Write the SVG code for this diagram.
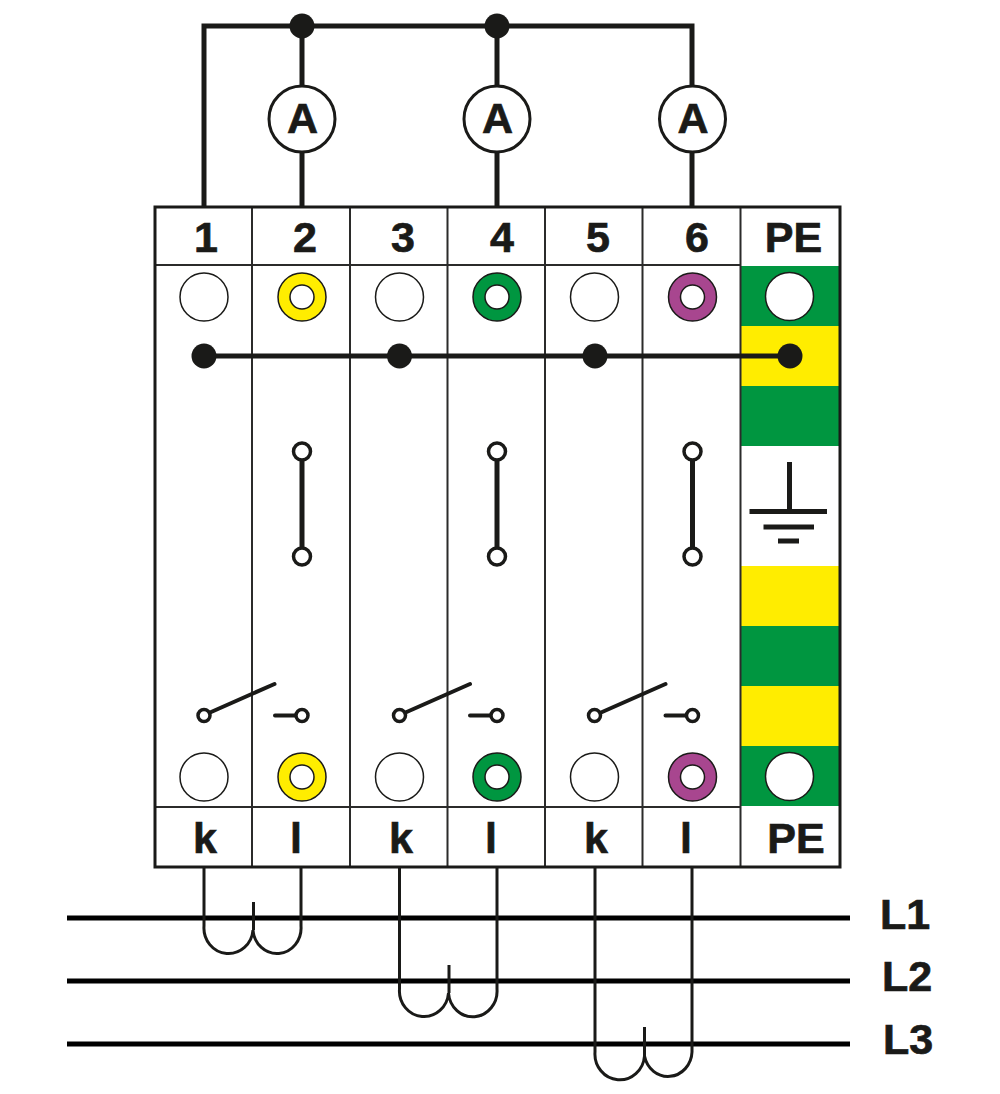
<svg xmlns="http://www.w3.org/2000/svg" width="1000" height="1094" viewBox="0 0 1000 1094">
<style>
.t{font-family:"Liberation Sans",Arial,sans-serif;font-weight:700;font-size:43px;fill:#1a1a18;stroke:#1a1a18;stroke-width:.7;text-anchor:middle}
.g{fill:#009640}.y{fill:#ffed00}
.w{fill:none;stroke:#1a1a18;stroke-width:5}
.w4{fill:none;stroke:#1a1a18;stroke-width:4;stroke-linecap:round}
.grid{fill:none;stroke:#2b2b2a;stroke-width:2}
.hole{fill:#fff;stroke:#1a1a18;stroke-width:1.5}
.ring{stroke:#1a1a18;stroke-width:1.5}
.pin{fill:#fff;stroke:#1a1a18;stroke-width:3.500}
.dot{fill:#1a1a18}
.m{fill:#fff;stroke:#1a1a18;stroke-width:3}
.sw{fill:#fff;stroke:#1a1a18;stroke-width:3.500}
.ln{fill:none;stroke:#000;stroke-width:5}
.loop{fill:none;stroke:#1a1a18;stroke-width:3}
</style>
<rect width="1000" height="1094" fill="#fff"/>
<g id="pe-strip">
<rect class="g" x="741" y="266" width="98" height="60"/>
<rect class="y" x="741" y="326" width="98" height="60"/>
<rect class="g" x="741" y="386" width="98" height="60"/>
<rect class="y" x="741" y="566" width="99" height="60"/>
<rect class="g" x="741" y="626" width="99" height="60"/>
<rect class="y" x="741" y="686" width="99" height="60"/>
<rect class="g" x="741" y="746" width="99" height="60"/>
</g>
<g id="housing">
<path class="grid" d="M252 207V867M350 207V867M447.500 207V867M545 207V867M642.500 207V867M740.500 207V867M155 265H741M155 807H741"/>
<rect x="155" y="207" width="685" height="660" fill="none" stroke="#1a1a18" stroke-width="3"/>
</g>
<g id="connectors">
<path class="w" d="M204 207V26H692V207M302 26V86M302 152V207M497 26V86M497 152V207M692 152V207"/>
<path class="w" d="M204 356H790"/>
<path class="ln" d="M67 918H850M67 981H850M67 1044H850"/>
<path class="loop" d="M204 867V926A24.500 25.500 0 0 0 253 930A24 25.500 0 0 0 301 926V867M253.500 930V902"/>
<path class="loop" d="M399.500 867V989A24.500 25.500 0 0 0 448.500 993A24 25.500 0 0 0 497 989V867M449 993V965"/>
<path class="loop" d="M595 867V1052A24.500 25.500 0 0 0 644.500 1056A24 25.500 0 0 0 692 1052V867M644.500 1056V1027"/>
</g>
<g id="junctions">
<circle class="dot" cx="302" cy="26" r="12.500"/><circle class="dot" cx="497" cy="26" r="12.500"/>
<circle class="dot" cx="204" cy="356" r="12.500"/><circle class="dot" cx="399.500" cy="356" r="12.500"/><circle class="dot" cx="595" cy="356" r="12.500"/><circle class="dot" cx="790" cy="356" r="12.500"/>
</g>
<g id="ammeter-1"><circle class="m" cx="302" cy="119" r="33"/><text class="t" x="302.500" y="133">A</text></g>
<g id="ammeter-2"><circle class="m" cx="497" cy="119" r="33"/><text class="t" x="497.500" y="133">A</text></g>
<g id="ammeter-3"><circle class="m" cx="692.500" cy="119" r="33"/><text class="t" x="693" y="133">A</text></g>
<g id="labels-top">
<text class="t" x="206" y="252">1</text><text class="t" x="305" y="252">2</text><text class="t" x="403" y="252">3</text><text class="t" x="502" y="252">4</text><text class="t" x="598" y="252">5</text><text class="t" x="697" y="252">6</text><text class="t" x="793.500" y="252">PE</text>
</g>
<g id="labels-bottom">
<text class="t" x="205" y="853">k</text><text class="t" x="296" y="853">l</text><text class="t" x="401" y="853">k</text><text class="t" x="491" y="853">l</text><text class="t" x="596" y="853">k</text><text class="t" x="686" y="853">l</text><text class="t" x="796" y="853">PE</text>
</g>
<g id="terminals-top">
<circle class="hole" cx="204" cy="297" r="24"/><circle class="ring y" cx="302" cy="297" r="24"/><circle class="hole" cx="302" cy="297" r="12"/>
<circle class="hole" cx="399.500" cy="297" r="24"/><circle class="ring g" cx="497" cy="297" r="24"/><circle class="hole" cx="497" cy="297" r="12"/>
<circle class="hole" cx="594.500" cy="297" r="24"/><circle class="ring" fill="#a8468f" cx="692.500" cy="297" r="24"/><circle class="hole" cx="692.500" cy="297" r="12"/>
<circle class="hole" cx="789.500" cy="296.500" r="24"/>
</g>
<g id="terminals-bottom">
<circle class="hole" cx="204" cy="777" r="24"/><circle class="ring y" cx="302" cy="777" r="24"/><circle class="hole" cx="302" cy="777" r="12"/>
<circle class="hole" cx="399.500" cy="777" r="24"/><circle class="ring g" cx="497" cy="777" r="24"/><circle class="hole" cx="497" cy="777" r="12"/>
<circle class="hole" cx="594.500" cy="777" r="24"/><circle class="ring" fill="#a8468f" cx="692.500" cy="777" r="24"/><circle class="hole" cx="692.500" cy="777" r="12"/>
<circle class="hole" cx="789.500" cy="776.500" r="24"/>
</g>
<g id="links">
<path class="w" d="M302 451V556M497 451V556M692.500 451V556"/>
<circle class="pin" cx="302" cy="451.500" r="8.500"/><circle class="pin" cx="302" cy="556.500" r="8.500"/>
<circle class="pin" cx="497" cy="451.500" r="8.500"/><circle class="pin" cx="497" cy="556.500" r="8.500"/>
<circle class="pin" cx="692.500" cy="451.500" r="8.500"/><circle class="pin" cx="692.500" cy="556.500" r="8.500"/>
</g>
<g id="switches">
<path class="w4" d="M210 712.500L274.500 684M275 715.500H296M405.500 712.500L470 684M470 715.500H491M601 712.500L665.500 684M665.500 715.500H686.500"/>
<circle class="sw" cx="204" cy="715.500" r="6"/><circle class="sw" cx="302" cy="715.500" r="6"/>
<circle class="sw" cx="399.500" cy="715.500" r="6"/><circle class="sw" cx="497" cy="715.500" r="6"/>
<circle class="sw" cx="594.500" cy="715.500" r="6"/><circle class="sw" cx="692.500" cy="715.500" r="6"/>
</g>
<g id="earth">
<path class="w" d="M789.500 462V511M749.500 511.500H827M763.500 527H814M778 541H799"/>
</g>
<g id="phase-labels">
<text class="t" x="905" y="929">L1</text><text class="t" x="907" y="991">L2</text><text class="t" x="908" y="1054">L3</text>
</g>
</svg>
